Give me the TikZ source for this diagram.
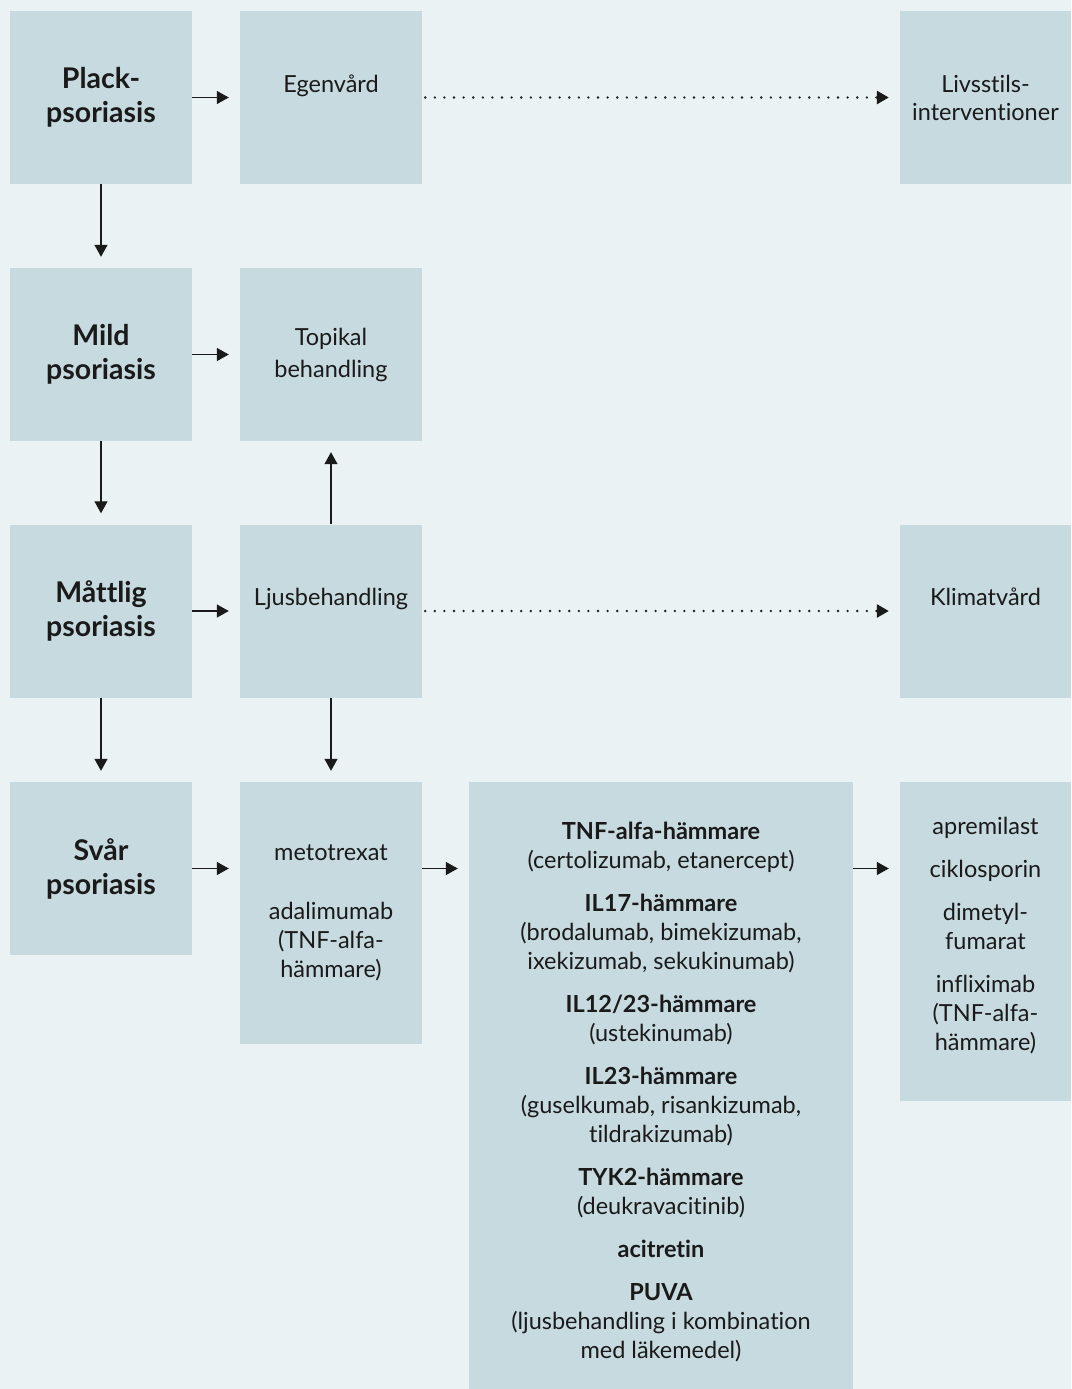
\documentclass[tikz,border=0pt]{standalone}
\usepackage{fontspec}
\setmainfont{Lato}[Ligatures=NoCommon]
\usetikzlibrary{arrows.meta,positioning}
\definecolor{page}{HTML}{EAF2F4}
\definecolor{boxfill}{HTML}{C6DADF}
\definecolor{ink}{HTML}{1A1A1A}
\tikzset{
  box/.style={rectangle,fill=boxfill,inner sep=0pt,align=center,text=ink,
    font=\fontsize{23.5}{28}\selectfont},
  sbox/.style={box,minimum width=182pt,minimum height=173pt},
  lvl/.style={sbox,font=\fontsize{28.5}{34}\selectfont\bfseries},
  grp/.style={font=\fontsize{23.5}{29}\selectfont},
  arr/.style={-{Triangle[length=12pt,width=13pt]},line width=1.3pt,color=ink,shorten >=11pt},
  darr/.style={arr,dash pattern=on 0pt off 9.6pt,line cap=round,line width=2.6pt,shorten <=3pt},
}

\begin{document}
\begin{tikzpicture}[x=1pt,y=-1pt]
  \fill[page] (0,0) rectangle (1071,1389);
  \useasboundingbox (0,0) rectangle (1071,1389);
  % severity levels
  \node[lvl] (plack) at (101,97.5){Plack-\\psoriasis};
  \node[lvl] (mild) at (101,354.5){Mild\\psoriasis};
  \node[lvl] (mattlig) at (101,611){Måttlig\\psoriasis};
  \node[lvl] (svar) at (101,868.5){Svår\\psoriasis};
  % treatments
  \node[sbox] (egen) at (331,97.5){Egenvård\\\mbox{}};
  \node[sbox,font=\fontsize{23.5}{32}\selectfont] (topikal) at (331,354.5){Topikal\\behandling};
  \node[sbox] (ljus) at (331,611){Ljusbehandling\\\mbox{}};
  \node[box,grp,minimum width=182pt,minimum height=262pt] (meto) at (331,913)
    {metotrexat\\[30pt]adalimumab\\(TNF-alfa-\\hämmare)};
  \node[box,minimum width=171pt,minimum height=173pt] (livs) at (985.5,97.5){Livsstils-\\interventioner};
  \node[box,minimum width=171pt,minimum height=173pt] (klimat) at (985.5,611){Klimatvård\\\mbox{}};
  % runs past the lower edge of the page
  \node[box,grp,minimum width=384pt,minimum height=619pt] (bio) at (661,1091.5)
    {\textbf{TNF-alfa-hämmare}\\(certolizumab, etanercept)\\[14pt]
     \textbf{IL17-hämmare}\\(brodalumab, bimekizumab,\\ixekizumab, sekukinumab)\\[14pt]
     \textbf{IL12/23-hämmare}\\(ustekinumab)\\[14pt]
     \textbf{IL23-hämmare}\\(guselkumab, risankizumab,\\tildrakizumab)\\[14pt]
     \textbf{TYK2-hämmare}\\(deukravacitinib)\\[14pt]
     \textbf{acitretin}\\[14pt]
     \textbf{PUVA}\\(ljusbehandling i kombination\\med läkemedel)};
  \node[box,grp,minimum width=171pt,minimum height=319pt] (ovr) at (985.5,941.5)
    {apremilast\\[14pt]ciklosporin\\[14pt]dimetyl-\\fumarat\\[14pt]infliximab\\(TNF-alfa-\\hämmare)\\[-14pt]\mbox{}};
  % connectors
  \draw[arr] (plack) -- (egen);
  \draw[arr] (mild) -- (topikal);
  \draw[arr] (mattlig) -- (ljus);
  \draw[arr] (svar.east) -- (svar.east -| meto.west);
  \draw[arr] (svar.east -| meto.east) -- (svar.east -| bio.west);
  \draw[arr] (svar.east -| bio.east) -- (svar.east -| ovr.west);
  \draw[arr] (plack) -- (mild);
  \draw[arr] (mild) -- (mattlig);
  \draw[arr] (mattlig) -- (svar);
  \draw[arr] (ljus.south) -- (ljus.south |- meto.north);
  \draw[arr] (ljus) -- (topikal);
  \draw[darr] (egen) -- (livs);
  \draw[darr] (ljus) -- (klimat);
\end{tikzpicture}
\end{document}
